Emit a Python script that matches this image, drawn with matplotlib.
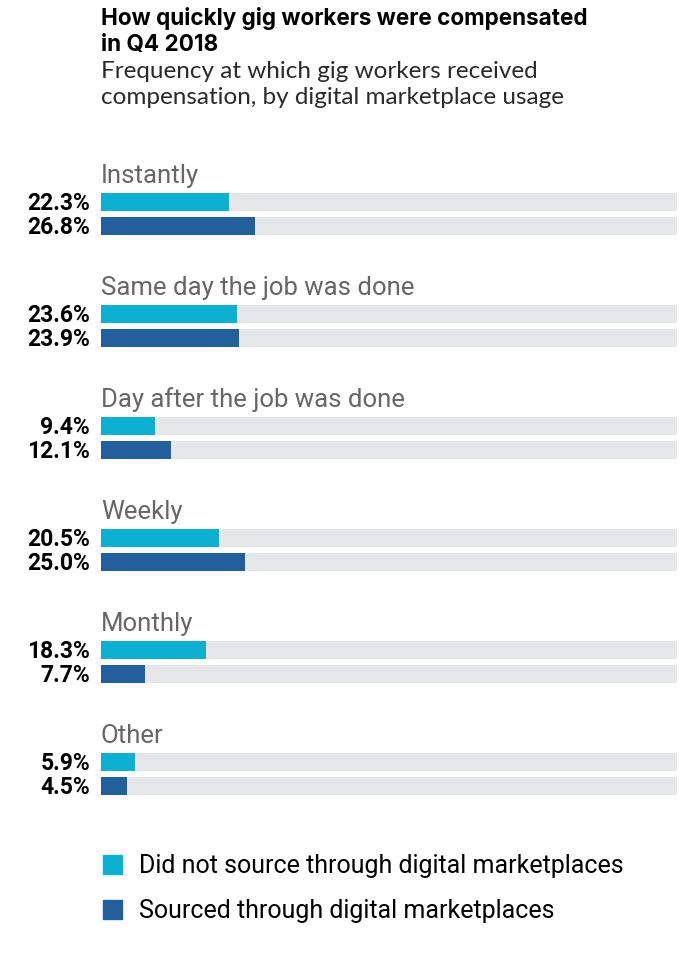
import matplotlib
matplotlib.use("Agg")
import matplotlib.pyplot as plt
from matplotlib.patches import Rectangle

# data
categories = ["Instantly", "Same day the job was done", "Day after the job was done",
              "Weekly", "Monthly", "Other"]
not_sourced = [22.3, 23.6, 9.4, 20.5, 18.3, 5.9]
sourced = [26.8, 23.9, 12.1, 25.0, 7.7, 4.5]
series_names = ["Did not source through digital marketplaces",
                "Sourced through digital marketplaces"]

CYAN = "#0EB0D2"
BLUE = "#235F9C"
TRACK = "#E6E7E9"
COND = ["Roboto", "DejaVu Sans"]

W, H = 698, 960
fig = plt.figure(figsize=(W / 100, H / 100), dpi=100)

# axes in pixel-like y units (top = 140 px, bottom = 800 px)
top, bottom = 140, 800
ax = fig.add_axes([101 / W, 1 - bottom / H, 576 / W, (bottom - top) / H])
ax.set_xlim(0, 100)
ax.set_ylim(bottom, top)
ax.axis("off")

step = 112
bar_h = 18
for i, cat in enumerate(categories):
    y1 = 202 + step * i
    y2 = 226 + step * i
    ax.barh([y1, y2], [100, 100], height=bar_h, color=TRACK, left=0)
    ax.barh(y1, not_sourced[i], height=bar_h, color=CYAN)
    ax.barh(y2, sourced[i], height=bar_h, color=BLUE)
    ax.text(0, 183 + step * i, cat, fontsize=18.5, color="#666666",
            family=COND, va="baseline", ha="left")
    ax.text(-1.9, y1 + 1, f"{not_sourced[i]:.1f}%", fontsize=16.5, fontweight="bold",
            family=COND, ha="right", va="center", color="black")
    ax.text(-1.9, y2 + 1, f"{sourced[i]:.1f}%", fontsize=16.5, fontweight="bold",
            family=COND, ha="right", va="center", color="black")

# title / subtitle
fig.text(101 / W, 1 - 25 / H, "How quickly gig workers were compensated",
         fontsize=16.2, fontweight="bold", family=["Inter", "DejaVu Sans"], va="baseline")
fig.text(101 / W, 1 - 51 / H, "in Q4 2018",
         fontsize=16.2, fontweight="bold", family=["Inter", "DejaVu Sans"], va="baseline")
fig.text(101 / W, 1 - 78 / H, "Frequency at which gig workers received",
         fontsize=17.5, family=["Lato", "DejaVu Sans"],
         color="#2a2a2a", va="baseline")
fig.text(101 / W, 1 - 104 / H, "compensation, by digital marketplace usage",
         fontsize=17.5, family=["Lato", "DejaVu Sans"],
         color="#2a2a2a", va="baseline")

# legend
for j, (name, col) in enumerate(zip(series_names, [CYAN, BLUE])):
    ytop = 855 + 45 * j
    fig.add_artist(Rectangle((103 / W, 1 - (ytop + 19) / H), 19 / W, 19 / H,
                             color=col, transform=fig.transFigure))
    fig.text(139 / W, 1 - (ytop + 18) / H, name, fontsize=18, family=COND,
             color="black", va="baseline")

fig.savefig("out.png", dpi=100)
